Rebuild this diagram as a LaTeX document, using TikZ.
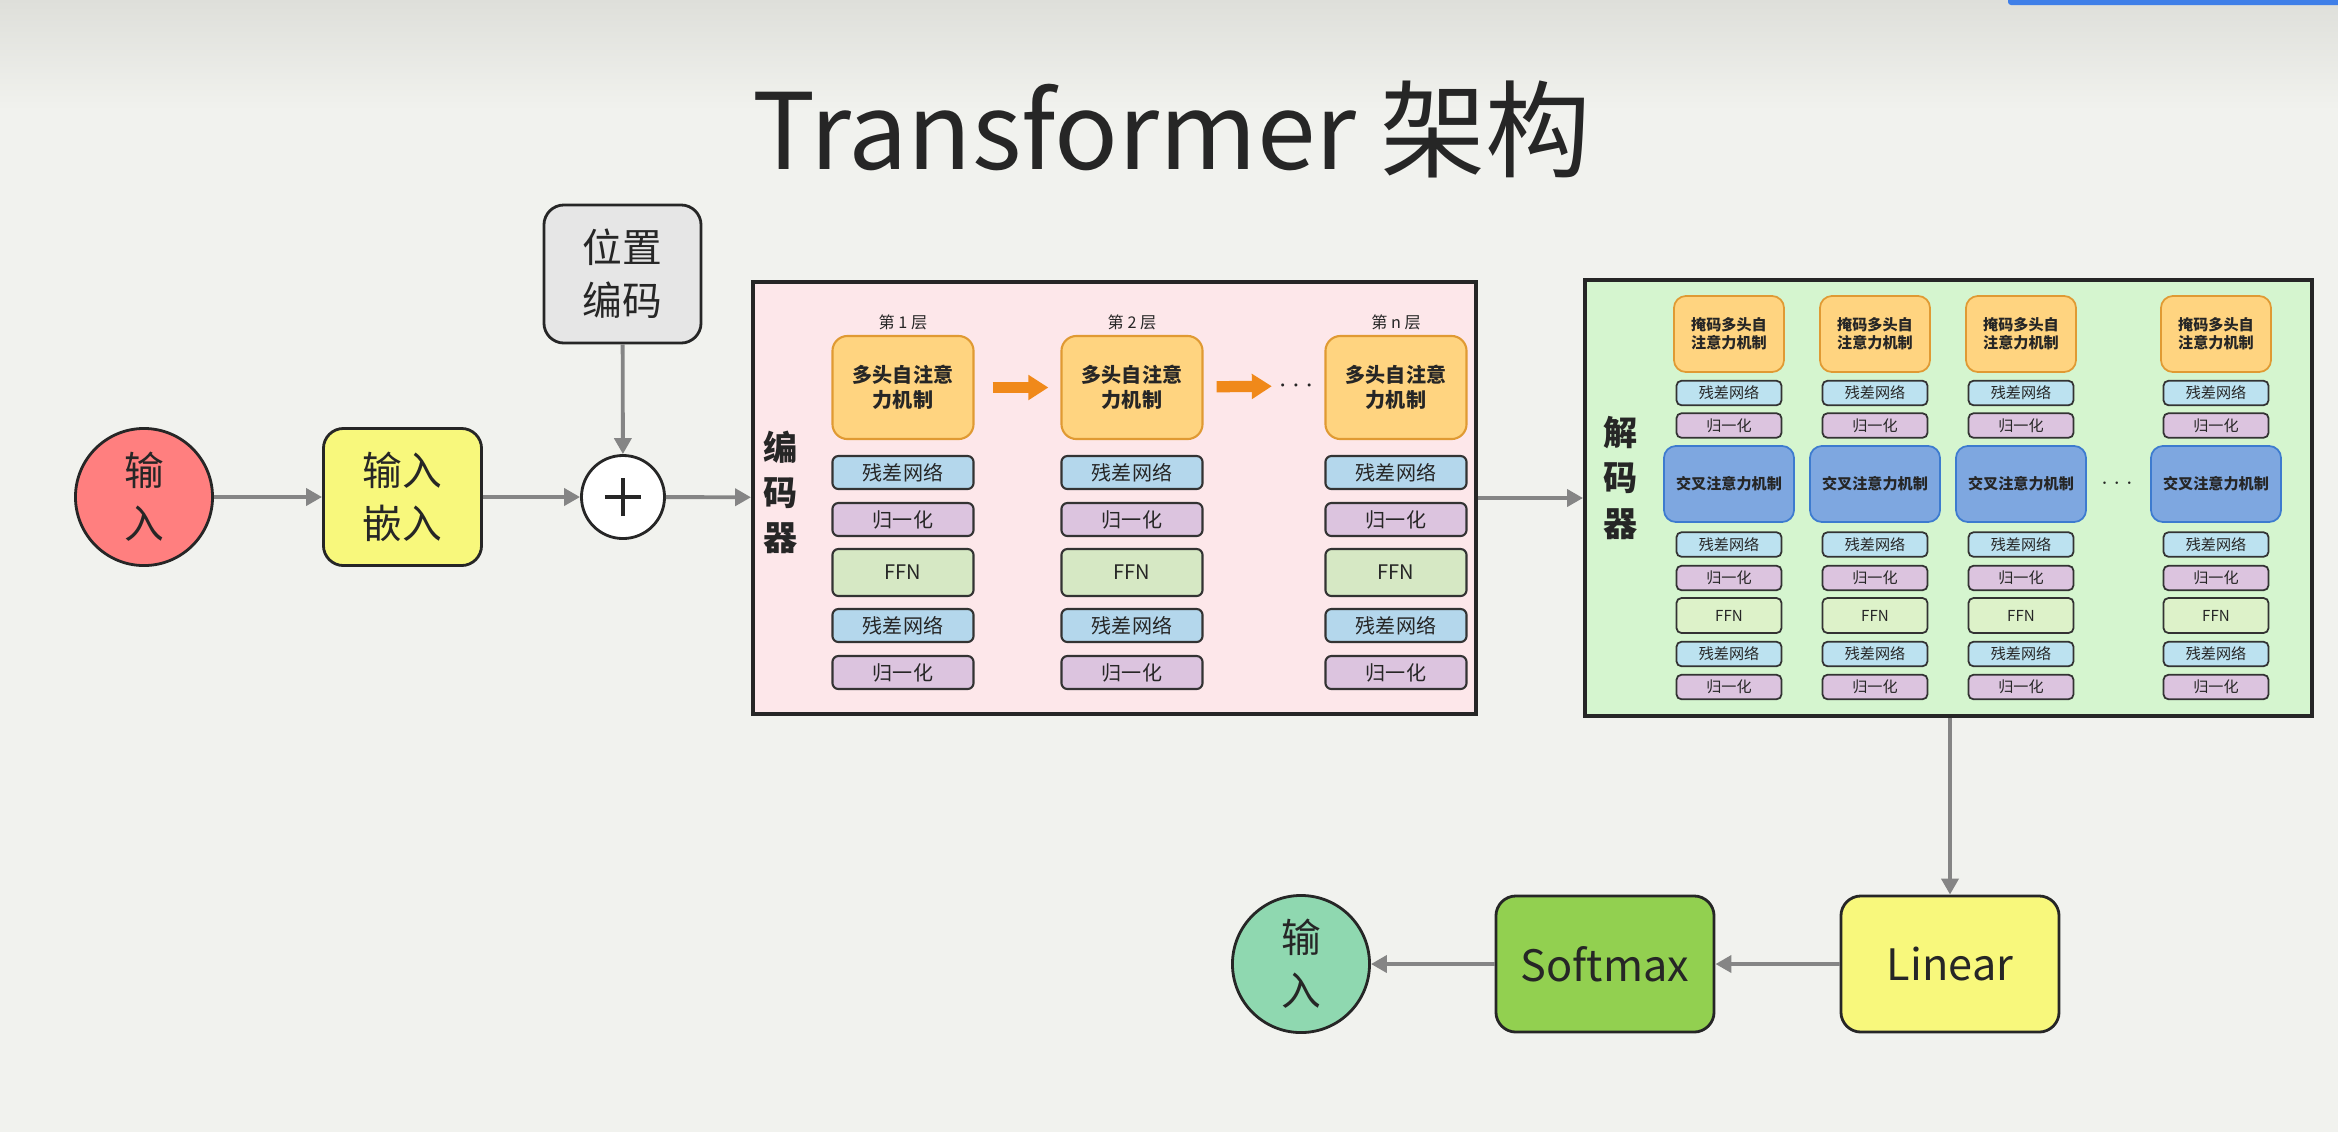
\documentclass[tikz,border=0pt]{standalone}
\usepackage{fontspec}
\setmainfont{Noto Sans CJK SC}
\usetikzlibrary{positioning,arrows.meta}

\definecolor{bgcol}{HTML}{F1F2EE}
\definecolor{bgtop}{HTML}{DEDFDA}
\definecolor{barblue}{HTML}{3F7FE8}
\definecolor{inred}{HTML}{FF7F7F}
\definecolor{embyellow}{HTML}{F8F87C}
\definecolor{posgray}{HTML}{E6E6E6}
\definecolor{encpink}{HTML}{FDE7EA}
\definecolor{decgreen}{HTML}{D5F5CF}
\definecolor{attfill}{HTML}{FFD480}
\definecolor{attline}{HTML}{E09A33}
\definecolor{resblue}{HTML}{B4D7EC}
\definecolor{dresblue}{HTML}{BCE2F0}
\definecolor{normpurple}{HTML}{DCC4DF}
\definecolor{ffngreen}{HTML}{D6E8C4}
\definecolor{dffngreen}{HTML}{DDF2C9}
\definecolor{crossfill}{HTML}{7EA7E0}
\definecolor{crossline}{HTML}{3D7BCF}
\definecolor{arrgray}{HTML}{858585}
\definecolor{flow}{HTML}{F0891A}
\definecolor{softgreen}{HTML}{92D050}
\definecolor{outmint}{HTML}{8FD8B0}

\newcommand\titletxt{\fontsize{30pt}{36pt}\selectfont}
\newcommand\bigtxt{\fontsize{11.3pt}{15pt}\selectfont}
\newcommand\midtxt{\fontsize{12.3pt}{15pt}\selectfont}
\newcommand\sidetxt{\fontsize{9.7pt}{12.8pt}\selectfont\bfseries}
\newcommand\enctxt{\fontsize{5.7pt}{7.1pt}\selectfont}
\newcommand\layertxt{\fontsize{4.6pt}{5.5pt}\selectfont}
\newcommand\dectxt{\fontsize{4.3pt}{5.1pt}\selectfont}

\begin{document}
\begin{tikzpicture}[x=0.01cm, y=-0.01cm,
    every node/.style={text=black!85},
    arr/.style={draw=arrgray, line width=1.1pt, -{Triangle[length=0.16cm,width=0.17cm]}},
    flowarr/.style={draw=flow, line width=3.2pt, -{Triangle[length=0.2cm,width=0.24cm]}},
    bigbox/.style={draw=black!85, line width=0.8pt, rounded corners=0.2cm, minimum width=1.58cm,
        minimum height=1.37cm, align=center, font=\bigtxt},
    token/.style={circle, draw=black!85, line width=0.8pt, minimum size=1.37cm, inner sep=0pt,
        align=center, font=\bigtxt},
    plus/.style={circle, draw=black!85, fill=white, line width=0.8pt, minimum size=0.83cm,
        path picture={\draw[line width=1.2pt]
            ([xshift=-0.18cm]path picture bounding box.center) -- ([xshift=0.18cm]path picture bounding box.center)
            ([yshift=-0.19cm]path picture bounding box.center) -- ([yshift=0.19cm]path picture bounding box.center);}},
    stack/.style={draw=black!85, line width=1pt, inner sep=0pt},
    side/.style={align=center, font=\sidetxt},
    % encoder layers
    eblock/.style={draw=black!80, line width=0.6pt, rounded corners=0.06cm, minimum width=1.41cm,
        minimum height=0.33cm, inner sep=0pt, font=\enctxt},
    att/.style={eblock, draw=attline, fill=attfill, rounded corners=0.15cm, minimum height=1.03cm,
        align=center, font=\enctxt\bfseries},
    res/.style={eblock, fill=resblue},
    norm/.style={eblock, fill=normpurple},
    ffn/.style={eblock, fill=ffngreen, minimum height=0.47cm},
    layer/.style={font=\layertxt},
    % decoder layers
    dblock/.style={draw=black!80, line width=0.5pt, rounded corners=0.05cm, minimum width=1.05cm,
        minimum height=0.245cm, inner sep=0pt, font=\dectxt},
    matt/.style={dblock, draw=attline, fill=attfill, rounded corners=0.12cm, minimum width=1.1cm,
        minimum height=0.76cm, align=center, font=\dectxt\bfseries},
    cross/.style={dblock, draw=crossline, fill=crossfill, rounded corners=0.12cm, minimum width=1.3cm,
        minimum height=0.76cm, font=\dectxt\bfseries},
    dres/.style={dblock, fill=dresblue},
    dnorm/.style={dblock, fill=normpurple},
    dffn/.style={dblock, fill=dffngreen, minimum height=0.35cm}
]
\useasboundingbox (0,0) rectangle (2338,1132);
\fill[bgcol] (0,0) rectangle (2338,1132);
\shade[top color=bgtop, bottom color=bgcol] (0,0) rectangle (2338,110);
\fill[barblue, rounded corners=0.03cm] (2008,-4) rectangle (2350,5);

\node[anchor=base, font=\titletxt] (title) at (1172,169) {Transformer 架构};

  % Input part
  \node[token, fill=inred] (in) at (144,497) {输\\入};
  \node[bigbox, fill=embyellow] (embed) at (402.5,497) {输入\\嵌入};
  \node[plus] (add) at (623,497) {};
  \node[bigbox, fill=posgray, minimum width=1.57cm, minimum height=1.38cm] (pos) at (622.5,274) {位置\\编码};
\draw[arr] (in) -- (embed);
\draw[arr] (embed) -- (add);
\draw[arr] (pos) -- (add);

  % Encoder
  \node[stack, fill=encpink, minimum width=7.23cm, minimum height=4.32cm] (enc) at (1114.5,498) {};
  \node[side] (enclab) at (781,492) {编\\码\\器};
  \foreach \i/\x/\n in {1/903/1, 2/1132/2, 3/1396/n} {
    \node[layer] (lay\i) at (\x,322) {第 \n{} 层};
    \node[att] (att\i) at (\x,387.5) {多头自注意\\力机制};
    \node[res] (resa\i) at (\x,472.5) {残差网络};
    \node[norm] (norma\i) at (\x,519.5) {归一化};
    \node[ffn] (ffn\i) at (\x,572.5) {FFN};
    \node[res] (resb\i) at (\x,625.5) {残差网络};
    \node[norm] (normb\i) at (\x,672.5) {归一化};
  }
  \node[inner sep=0.04cm, font=\fontsize{8pt}{8pt}\selectfont] (edots) at (1296,386) {$\cdots$};
\draw[flowarr, shorten <=0.18cm, shorten >=0.12cm] (att1) -- (att2);
\draw[flowarr, shorten <=0.13cm, shorten >=0.02cm] (att2) -- (edots);
\draw[arr] (add) -- (enc);

  % Decoder
  \node[stack, fill=decgreen, minimum width=7.27cm, minimum height=4.36cm] (dec) at (1948.5,498) {};
  \node[side] (declab) at (1621,478) {解\\码\\器};
  \foreach \i/\x in {1/1729, 2/1875, 3/2021, 4/2216} {
    \node[matt] (matt\i) at (\x,334) {掩码多头自\\注意力机制};
    \node[dres] (dresa\i) at (\x,393) {残差网络};
    \node[dnorm] (dnorma\i) at (\x,425.5) {归一化};
    \node[cross] (cross\i) at (\x,484) {交叉注意力机制};
    \node[dres] (dresb\i) at (\x,544.5) {残差网络};
    \node[dnorm] (dnormb\i) at (\x,578) {归一化};
    \node[dffn] (dffn\i) at (\x,615.5) {FFN};
    \node[dres] (dresc\i) at (\x,654) {残差网络};
    \node[dnorm] (dnormc\i) at (\x,687) {归一化};
  }
  \node[font=\fontsize{6pt}{6pt}\selectfont] (ddots) at (2117,483) {$\cdots$};
\draw[arr] (enc) -- (dec);

  % Output part
  \node[bigbox, fill=embyellow, minimum width=2.18cm, minimum height=1.36cm, font=\midtxt] (lin) at (1950,964) {Linear};
  \node[bigbox, fill=softgreen, minimum width=2.18cm, minimum height=1.36cm, font=\midtxt] (soft) at (1605,964) {Softmax};
  \node[token, fill=outmint] (out) at (1301,964) {输\\入};
\draw[arr] (dec.south -| lin) -- (lin);
\draw[arr] (lin) -- (soft);
\draw[arr] (soft) -- (out);
\end{tikzpicture}
\end{document}
